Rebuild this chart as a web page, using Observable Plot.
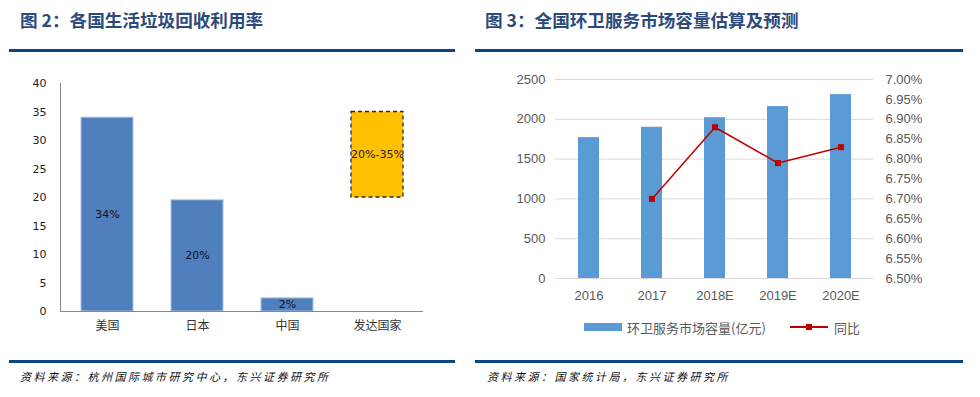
<!DOCTYPE html>
<html><head><meta charset="utf-8">
<script src="https://cdn.jsdelivr.net/npm/d3@7"></script>
<script src="https://cdn.jsdelivr.net/npm/@observablehq/plot@0.6"></script>
<style>
body{margin:0;width:980px;height:397px;position:relative;background:#fff;overflow:hidden;font-family:"Noto Sans CJK SC",sans-serif}
.abs{position:absolute;white-space:nowrap}
.title{font-size:17.6px;font-weight:bold;color:#2c4a7c;line-height:20px;top:10px}
.rule{height:3px;background:#0a4683}
.src{font-size:11px;font-style:italic;letter-spacing:2.5px;line-height:14px;top:369px;color:#111}
.leg{font-size:13px;color:#595959;line-height:16px;top:320px}
#left,#right{position:absolute}
</style></head><body>
<div class="abs title" style="left:20px">图 2：各国生活垃圾回收利用率</div>
<div class="abs rule" style="left:9px;width:446px;top:49px"></div>
<div class="abs title" style="left:485px">图 3：全国环卫服务市场容量估算及预测</div>
<div class="abs rule" style="left:475px;width:488px;top:49px"></div>
<div id="left" style="left:0;top:70px"></div>
<div id="right" style="left:490px;top:65px"></div>
<div class="abs" style="left:584px;top:323px;width:38px;height:8px;background:#5B9BD5"></div>
<div class="abs leg" style="left:627px">环卫服务市场容量(亿元)</div>
<div class="abs" style="left:790px;top:326px;width:38px;height:2px;background:#C00000"></div>
<div class="abs" style="left:806px;top:324px;width:6px;height:6px;background:#C00000"></div>
<div class="abs leg" style="left:834px">同比</div>
<div class="abs rule" style="left:9px;width:446px;top:360px"></div>
<div class="abs rule" style="left:475px;width:488px;top:360px"></div>
<div class="abs src" style="left:20px">资料来源：杭州国际城市研究中心，东兴证券研究所</div>
<div class="abs src" style="left:487px">资料来源：国家统计局，东兴证券研究所</div>
<script>
// ---- Left chart data ----
const countries = ["美国", "日本", "中国", "发达国家"];
const rateCountries = ["美国", "日本", "中国"];
const rates = [34, 19.5, 2.3];
const rateLabels = ["34%", "20%", "2%"];
const devCountry = "发达国家";
const devLow = 20;
const devHigh = 35;
const devLabel = "20%-35%";
const leftTicks = [0, 5, 10, 15, 20, 25, 30, 35, 40];

// ---- Right chart data ----
const years = ["2016", "2017", "2018E", "2019E", "2020E"];
const capacity = [1770, 1900, 2020, 2160, 2310];
const growth = [null, 6.70, 6.88, 6.79, 6.83]; // percent
const capTicks = [0, 500, 1000, 1500, 2000, 2500];
const growthTicks = [6.50, 6.55, 6.60, 6.65, 6.70, 6.75, 6.80, 6.85, 6.90, 6.95, 7.00];

const leftData = rateCountries.map((c, i) => ({c, v: rates[i], label: rateLabels[i]}));
const devData = [{c: devCountry, lo: devLow, hi: devHigh, label: devLabel}];

const numFont = "DejaVu Sans, sans-serif";
const cjkFont = "Noto Sans CJK SC, sans-serif";

const left = Plot.plot({
  width: 455, height: 270,
  marginLeft: 60, marginRight: 32, marginTop: 13, marginBottom: 29,
  style: {fontFamily: numFont, fontSize: "11px", color: "#222", background: "transparent"},
  x: {domain: countries, paddingInner: 0.427, paddingOuter: 0.2135, label: null},
  y: {domain: [0, 40], label: null},
  marks: [
    Plot.barY(leftData, {x: "c", y: "v", fill: "#4F7FBD", stroke: "#a9c1e2", strokeWidth: 1}),
    Plot.barY(devData, {x: "c", y1: "lo", y2: "hi", fill: "#FFC000", stroke: "#1f2f5a", strokeWidth: 1.3, strokeDasharray: "4,3"}),
    Plot.text(leftData, {x: "c", y: d => d.v / 2, text: "label", fill: "#111", fontSize: 11}),
    Plot.text(devData, {x: "c", y: d => (d.lo + d.hi) / 2, text: "label", fill: "#222", fontSize: 11}),
    Plot.ruleY([0], {stroke: "#868686"}),
    Plot.frame({anchor: "left", stroke: "#868686"}),
    Plot.axisY(leftTicks, {tickSize: 0, tickPadding: 14, label: null, fill: "#222", fontSize: 11, tickFormat: d => String(d)}),
    Plot.axisX({tickSize: 0, tickPadding: 10, label: null, fill: "#333", fontSize: 12, fontFamily: cjkFont})
  ]
});
document.getElementById("left").appendChild(left);

const capMax = 2500, gMin = 6.5, gMax = 7.0;
const toLeft = g => (g - gMin) / (gMax - gMin) * capMax;
const fromLeft = v => gMin + v / capMax * (gMax - gMin);
const barData = years.map((y, i) => ({y, v: capacity[i]}));
const lineData = years.map((y, i) => ({y, g: growth[i]})).filter(d => d.g != null);

const right = Plot.plot({
  width: 490, height: 245,
  marginLeft: 65, marginRight: 107, marginTop: 14, marginBottom: 32,
  style: {fontFamily: "Liberation Sans, Arial, sans-serif", fontSize: "13px", color: "#595959", background: "transparent"},
  x: {domain: years, paddingInner: 0.67, paddingOuter: 0.335, label: null},
  y: {domain: [0, capMax], label: null},
  marks: [
    Plot.gridY(capTicks, {stroke: "#d9d9d9", strokeOpacity: 1}),
    Plot.barY(barData, {x: "y", y: "v", fill: "#5B9BD5"}),
    Plot.line(lineData, {x: "y", y: d => toLeft(d.g), stroke: "#C00000", strokeWidth: 1.5}),
    Plot.dot(lineData, {x: "y", y: d => toLeft(d.g), symbol: "square", r: 3.4, fill: "#C00000"}),
    Plot.axisY(capTicks, {anchor: "left", tickSize: 0, tickPadding: 10, label: null, fill: "#595959", fontSize: 13, tickFormat: d => String(d)}),
    Plot.axisY(growthTicks.map(toLeft), {anchor: "right", tickSize: 0, tickPadding: 12, label: null, fill: "#595959", fontSize: 13,
      tickFormat: d => fromLeft(d).toFixed(2) + "%"}),
    Plot.axisX({tickSize: 0, tickPadding: 12, label: null, fill: "#595959", fontSize: 13})
  ]
});
document.getElementById("right").appendChild(right);
</script>
</body></html>
